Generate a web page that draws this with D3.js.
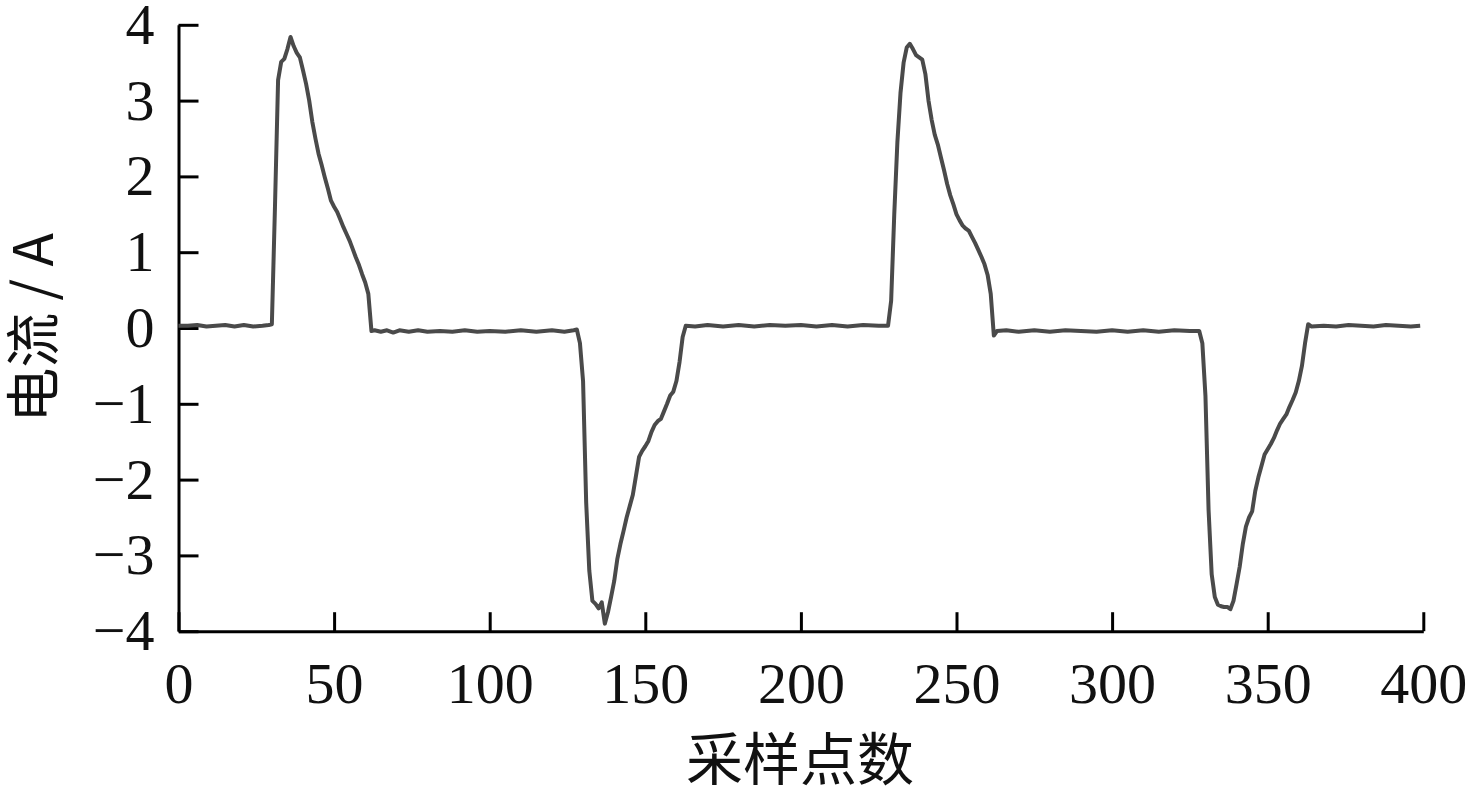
<!DOCTYPE html>
<html>
<head>
<meta charset="utf-8">
<script src="https://cdn.jsdelivr.net/npm/d3@7"></script>
<style>
  body { margin: 0; background: #fff; }
  svg { display: block; }
</style>
</head>
<body>
<div id="container"></div>
<script>
/* CONSTANTS AND GLOBALS */
const width = 1479,
  height = 791;

// sample index (x) and current in A (y)
const sampleIdx = [
  0, 3, 6, 9, 12, 15, 18, 21, 24, 27, 29,
  30, 31, 32, 33, 34, 35, 36, 37, 38, 39, 40, 41, 42, 43, 44, 45, 46, 47, 48, 49,
  50, 51, 52, 53, 54, 55, 56, 57, 58, 59, 60, 61, 62,
  63, 65, 67, 69, 71, 74, 77, 80, 84, 88, 92, 96, 100, 105, 110, 115, 120, 124, 127, 128,
  129, 130, 131, 132, 133, 134, 135, 136, 137, 138, 139, 140, 141, 142, 143, 144, 145,
  146, 147, 148, 149, 150, 151, 152, 153, 154, 155, 156, 157, 158, 159, 160, 161, 162, 163,
  166, 170, 175, 180, 185, 190, 195, 200, 205, 210, 215, 220, 225, 228,
  229, 230, 231, 232, 233, 234, 235, 236, 237, 238, 239, 240, 241, 242, 243, 244, 245,
  246, 247, 248, 249, 250, 251, 252, 253, 254, 255, 256, 257, 258, 259, 260, 261, 262, 263,
  266, 270, 275, 280, 285, 290, 295, 300, 305, 310, 315, 320, 325, 328,
  329, 330, 331, 332, 333, 334, 335, 336, 337, 338, 339, 340, 341, 342, 343, 344, 345,
  346, 347, 348, 349, 350, 351, 352, 353, 354, 355, 356, 357, 358, 359, 360, 361, 362, 363, 364,
  368, 372, 376, 380, 384, 388, 392, 396, 399
];

const currentA = [
  0.03, 0.03, 0.04, 0.02, 0.03, 0.04, 0.02, 0.04, 0.02, 0.03, 0.04,
  0.05, 1.6, 3.27, 3.51, 3.55, 3.68, 3.84, 3.72, 3.63, 3.57, 3.4, 3.22, 3.0, 2.72, 2.5, 2.3, 2.15, 1.99, 1.84, 1.68,
  1.6, 1.53, 1.43, 1.33, 1.24, 1.15, 1.04, 0.93, 0.83, 0.71, 0.6, 0.45, -0.04,
  -0.03, -0.05, -0.03, -0.06, -0.03, -0.05, -0.03, -0.05, -0.04, -0.05, -0.03, -0.05, -0.04, -0.05, -0.03, -0.05, -0.03, -0.05, -0.03, -0.02,
  -0.2, -0.7, -2.3, -3.2, -3.6, -3.64, -3.7, -3.62, -3.9, -3.75, -3.55, -3.34, -3.05, -2.85, -2.68, -2.5, -2.35,
  -2.2, -1.95, -1.7, -1.62, -1.56, -1.49, -1.37, -1.28, -1.23, -1.2, -1.1, -1.0, -0.89, -0.84, -0.7, -0.45, -0.12, 0.03,
  0.02, 0.04, 0.02, 0.04, 0.02, 0.04, 0.03, 0.04, 0.02, 0.04, 0.02, 0.04, 0.03, 0.03,
  0.36, 1.5, 2.45, 3.1, 3.5, 3.7, 3.75, 3.68, 3.6, 3.57, 3.54, 3.35, 3.0, 2.75, 2.55, 2.42, 2.25,
  2.08, 1.9, 1.75, 1.63, 1.5, 1.42, 1.35, 1.31, 1.28, 1.2, 1.12, 1.03, 0.94, 0.84, 0.7, 0.45, -0.1, -0.04,
  -0.03, -0.05, -0.03, -0.05, -0.03, -0.04, -0.05, -0.03, -0.05, -0.03, -0.05, -0.03, -0.04, -0.04,
  -0.2, -0.9, -2.4, -3.25, -3.55, -3.65, -3.67, -3.68, -3.68, -3.71, -3.6, -3.38, -3.15, -2.85, -2.62, -2.5, -2.42,
  -2.15, -1.97, -1.82, -1.67, -1.6, -1.53, -1.45, -1.35, -1.26, -1.2, -1.14, -1.04, -0.95, -0.85, -0.7, -0.5, -0.2, 0.05, 0.02,
  0.03, 0.02, 0.04, 0.03, 0.02, 0.04, 0.03, 0.02, 0.03
];

const xTicks = [0, 50, 100, 150, 200, 250, 300, 350, 400];
const yTicks = [-4, -3, -2, -1, 0, 1, 2, 3, 4];

const xLabel = "采样点数";
const yLabel = "电流 / A";

const numFont = "'Liberation Serif', 'Times New Roman', serif";
const cjkFont = "'Noto Sans CJK SC', 'Liberation Serif', serif";

/* INIT */
const data = sampleIdx.map((d, i) => ({ x: d, y: currentA[i] }));

const xScale = d3.scaleLinear()
  .domain([0, 400])
  .range([178.5, 1423.3]);

const yScale = d3.scaleLinear()
  .domain([-4, 4])
  .range([631.2, 24.8]);

const svg = d3.select("#container")
  .append("svg")
  .attr("width", width)
  .attr("height", height)
  .style("background", "#fff");

// axes - ticks point inward
const xAxis = d3.axisBottom(xScale)
  .tickValues(xTicks)
  .tickSizeInner(-19)
  .tickSizeOuter(0)
  .tickPadding(31);

const yAxis = d3.axisLeft(yScale)
  .tickValues(yTicks)
  .tickSizeInner(-20)
  .tickSizeOuter(0)
  .tickPadding(24);

const xAxisGroup = svg.append("g")
  .attr("transform", `translate(0,${yScale(-4)})`)
  .call(xAxis);

const yAxisGroup = svg.append("g")
  .attr("transform", `translate(${xScale(0)},0)`)
  .call(yAxis);

[xAxisGroup, yAxisGroup].forEach(g => {
  g.select(".domain").attr("stroke", "#000").attr("stroke-width", 3);
  g.selectAll(".tick line").attr("stroke", "#000").attr("stroke-width", 3);
  g.selectAll(".tick text")
    .attr("fill", "#111")
    .style("font-family", numFont)
    .style("font-size", "58px");
});

// current line
const line = d3.line()
  .x(d => xScale(d.x))
  .y(d => yScale(d.y));

svg.append("path")
  .datum(data)
  .attr("d", line)
  .attr("fill", "none")
  .attr("stroke", "#4a4a4a")
  .attr("stroke-width", 4)
  .attr("stroke-linejoin", "round");

// axis titles
svg.append("text")
  .attr("x", 800)
  .attr("y", 780)
  .attr("text-anchor", "middle")
  .style("font-family", cjkFont)
  .style("font-size", "57px")
  .attr("fill", "#111")
  .text(xLabel);

svg.append("text")
  .attr("transform", `translate(53,328) rotate(-90)`)
  .attr("text-anchor", "middle")
  .style("font-family", cjkFont)
  .style("font-size", "55px")
  .attr("fill", "#111")
  .text(yLabel);
</script>
</body>
</html>
